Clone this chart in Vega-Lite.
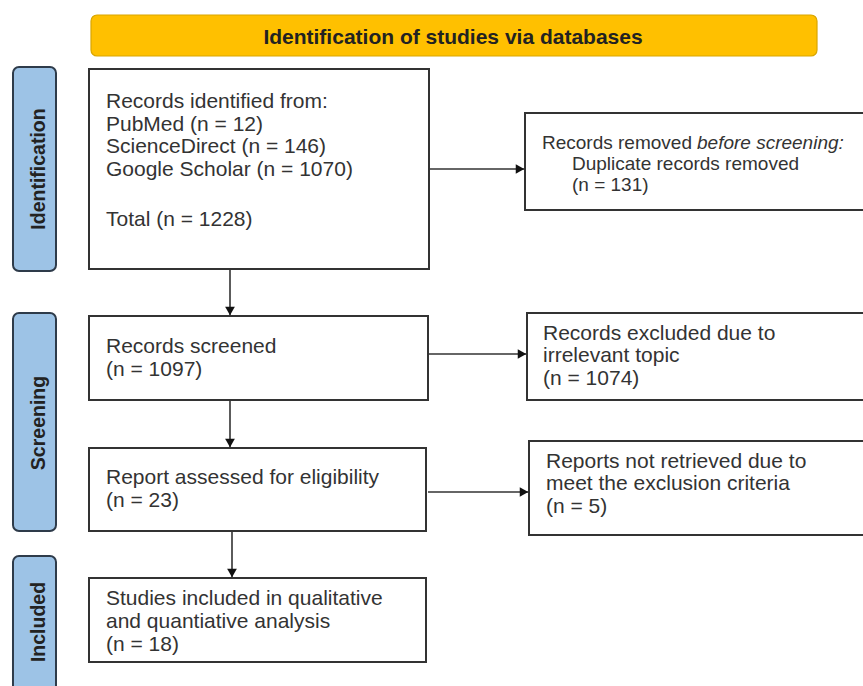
{
  "$schema": "https://vega.github.io/schema/vega-lite/v6.json",
  "width": 863,
  "height": 686,
  "padding": 0,
  "autosize": {"type": "none"},
  "background": "white",
  "config": {"view": {"stroke": null}},
  "datasets": {
    "boxes": [
      {"kind": "title", "x": 91, "x2": 817, "y": 15, "y2": 56},
      {"kind": "side", "x": 13, "x2": 56, "y": 67, "y2": 271},
      {"kind": "side", "x": 13, "x2": 56, "y": 313, "y2": 531},
      {"kind": "side", "x": 13, "x2": 56, "y": 556, "y2": 700},
      {"kind": "box", "x": 89, "x2": 429, "y": 69, "y2": 269},
      {"kind": "box", "x": 89, "x2": 428, "y": 316, "y2": 400},
      {"kind": "box", "x": 89, "x2": 426, "y": 448, "y2": 531},
      {"kind": "box", "x": 89, "x2": 426, "y": 578, "y2": 662},
      {"kind": "box", "x": 525, "x2": 880, "y": 113, "y2": 210},
      {"kind": "box", "x": 527, "x2": 880, "y": 313, "y2": 400},
      {"kind": "box", "x": 529, "x2": 880, "y": 441, "y2": 535}
    ],
    "arrows": [
      {"dir": "down", "x": 230, "y": 269, "x2": 230, "y2": 316},
      {"dir": "down", "x": 230, "y": 400, "x2": 230, "y2": 448},
      {"dir": "down", "x": 232, "y": 531, "x2": 232, "y2": 578},
      {"dir": "right", "x": 429, "y": 169, "x2": 525, "y2": 169},
      {"dir": "right", "x": 428, "y": 354, "x2": 527, "y2": 354},
      {"dir": "right", "x": 428, "y": 492, "x2": 529, "y2": 492}
    ],
    "texts": [
      {"style": "body", "x": 106, "y": 108, "text": "Records identified from:"},
      {"style": "body", "x": 106, "y": 131, "text": "PubMed (n = 12)"},
      {"style": "body", "x": 106, "y": 153, "text": "ScienceDirect (n = 146)"},
      {"style": "body", "x": 106, "y": 176, "text": "Google Scholar (n = 1070)"},
      {"style": "body", "x": 106, "y": 226, "text": "Total (n = 1228)"},
      {"style": "body", "x": 106, "y": 353, "text": "Records screened"},
      {"style": "body", "x": 106, "y": 376, "text": "(n = 1097)"},
      {"style": "body", "x": 106, "y": 484, "text": "Report assessed for eligibility"},
      {"style": "body", "x": 106, "y": 507, "text": "(n = 23)"},
      {"style": "body", "x": 106, "y": 605, "text": "Studies included in qualitative"},
      {"style": "body", "x": 106, "y": 628, "text": "and quantiative analysis"},
      {"style": "body", "x": 106, "y": 651, "text": "(n = 18)"},
      {"style": "body", "x": 543, "y": 340, "text": "Records excluded due to"},
      {"style": "body", "x": 543, "y": 362, "text": "irrelevant topic"},
      {"style": "body", "x": 543, "y": 385, "text": "(n = 1074)"},
      {"style": "body", "x": 546, "y": 468, "text": "Reports not retrieved due to"},
      {"style": "body", "x": 546, "y": 490, "text": "meet the exclusion criteria"},
      {"style": "body", "x": 546, "y": 513, "text": "(n = 5)"},
      {"style": "small", "x": 542, "y": 149, "text": "Records removed"},
      {"style": "small", "x": 572, "y": 170, "text": "Duplicate records removed"},
      {"style": "small", "x": 572, "y": 191, "text": "(n = 131)"},
      {"style": "smallitalic", "x": 697, "y": 149, "text": "before screening:"},
      {"style": "title", "x": 453, "y": 44, "text": "Identification of studies via databases"},
      {"style": "side", "x": 45, "y": 169, "text": "Identification"},
      {"style": "side", "x": 45, "y": 423, "text": "Screening"},
      {"style": "side", "x": 45, "y": 622, "text": "Included"}
    ]
  },
  "encoding": {
    "x": {"field": "x", "type": "quantitative", "scale": {"domain": [0, 863]}, "axis": null},
    "y": {"field": "y", "type": "quantitative", "scale": {"domain": [0, 686], "reverse": true}, "axis": null}
  },
  "layer": [
    {
      "data": {"name": "boxes"},
      "transform": [{"filter": "datum.kind === 'box'"}],
      "mark": {"type": "rect", "fill": "#8a8a8a", "opacity": 0.8, "xOffset": 1.5, "yOffset": 2, "clip": true},
      "encoding": {"x2": {"field": "x2"}, "y2": {"field": "y2"}}
    },
    {
      "data": {"name": "boxes"},
      "transform": [{"filter": "datum.kind === 'box'"}],
      "mark": {"type": "rect", "fill": "white", "stroke": "#333333", "strokeWidth": 2, "clip": true},
      "encoding": {"x2": {"field": "x2"}, "y2": {"field": "y2"}}
    },
    {
      "data": {"name": "boxes"},
      "transform": [{"filter": "datum.kind === 'side'"}],
      "mark": {"type": "rect", "fill": "#9DC3E6", "stroke": "#2E3B4A", "strokeWidth": 2, "cornerRadius": 6, "clip": true},
      "encoding": {"x2": {"field": "x2"}, "y2": {"field": "y2"}}
    },
    {
      "data": {"name": "boxes"},
      "transform": [{"filter": "datum.kind === 'title'"}],
      "mark": {"type": "rect", "fill": "#FFC000", "stroke": "#D9A600", "strokeWidth": 1.2, "cornerRadius": 6},
      "encoding": {"x2": {"field": "x2"}, "y2": {"field": "y2"}}
    },
    {
      "data": {"name": "arrows"},
      "mark": {"type": "rule", "stroke": "#333333", "strokeWidth": 1.6},
      "encoding": {"x2": {"field": "x2"}, "y2": {"field": "y2"}}
    },
    {
      "data": {"name": "arrows"},
      "transform": [{"filter": "datum.dir === 'down'"}],
      "mark": {"type": "point", "shape": "triangle-down", "filled": true, "size": 95, "color": "#111111", "opacity": 1, "yOffset": -5},
      "encoding": {
        "x": {"field": "x2", "type": "quantitative", "scale": {"domain": [0, 863]}, "axis": null},
        "y": {"field": "y2", "type": "quantitative", "scale": {"domain": [0, 686], "reverse": true}, "axis": null}
      }
    },
    {
      "data": {"name": "arrows"},
      "transform": [{"filter": "datum.dir === 'right'"}],
      "mark": {"type": "point", "shape": "triangle-right", "filled": true, "size": 95, "color": "#111111", "opacity": 1, "xOffset": -5},
      "encoding": {
        "x": {"field": "x2", "type": "quantitative", "scale": {"domain": [0, 863]}, "axis": null},
        "y": {"field": "y2", "type": "quantitative", "scale": {"domain": [0, 686], "reverse": true}, "axis": null}
      }
    },
    {
      "data": {"name": "texts"},
      "transform": [{"filter": "datum.style === 'body'"}],
      "mark": {"type": "text", "font": "Liberation Sans", "fontSize": 21, "fill": "#333333", "align": "left", "baseline": "alphabetic"},
      "encoding": {"text": {"field": "text"}}
    },
    {
      "data": {"name": "texts"},
      "transform": [{"filter": "datum.style === 'small'"}],
      "mark": {"type": "text", "font": "Liberation Sans", "fontSize": 19, "fill": "#333333", "align": "left", "baseline": "alphabetic"},
      "encoding": {"text": {"field": "text"}}
    },
    {
      "data": {"name": "texts"},
      "transform": [{"filter": "datum.style === 'smallitalic'"}],
      "mark": {"type": "text", "font": "Liberation Sans", "fontSize": 19, "fontStyle": "italic", "fill": "#333333", "align": "left", "baseline": "alphabetic"},
      "encoding": {"text": {"field": "text"}}
    },
    {
      "data": {"name": "texts"},
      "transform": [{"filter": "datum.style === 'title'"}],
      "mark": {"type": "text", "font": "Liberation Sans", "fontSize": 21, "fontWeight": "bold", "fill": "#222222", "align": "center", "baseline": "alphabetic"},
      "encoding": {"text": {"field": "text"}}
    },
    {
      "data": {"name": "texts"},
      "transform": [{"filter": "datum.style === 'side'"}],
      "mark": {"type": "text", "font": "Liberation Sans", "fontSize": 19.5, "fontWeight": "bold", "fill": "#222222", "align": "center", "baseline": "alphabetic", "angle": 270},
      "encoding": {"text": {"field": "text"}}
    }
  ]
}
